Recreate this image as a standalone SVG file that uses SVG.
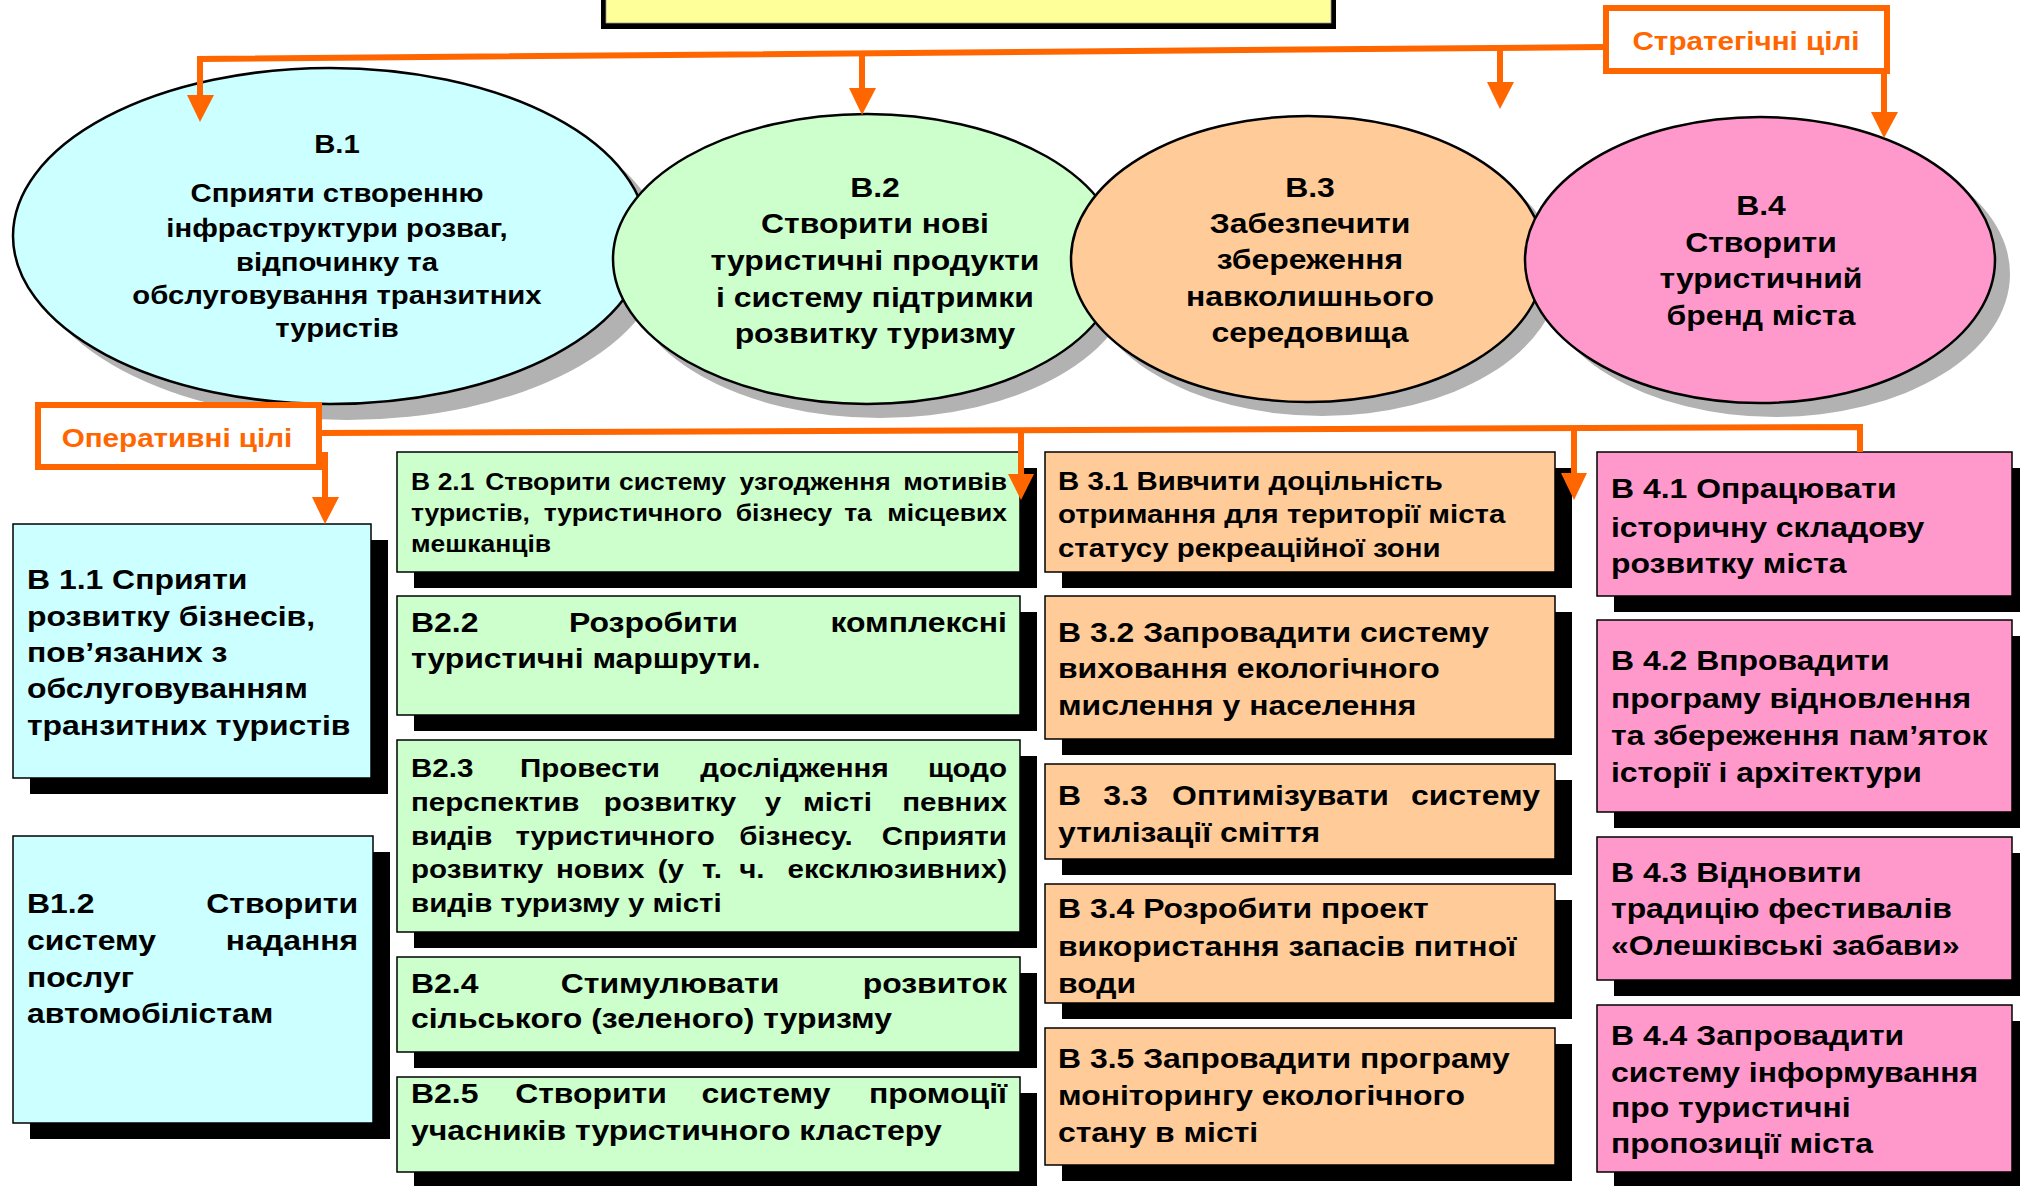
<svg xmlns="http://www.w3.org/2000/svg" width="2020" height="1186" viewBox="0 0 2020 1186">
<defs>
<style>
text{font-family:"Liberation Sans",Arial,sans-serif;font-weight:bold;fill:#000}
.ell{stroke:#000;stroke-width:2.5}
.esh{fill:#B2B2B2}
.box{stroke:#000;stroke-width:1.5}
.sh{fill:#000}
.c1{fill:#CCFFFF}.c2{fill:#CCFFCC}.c3{fill:#FFCC99}.c4{fill:#FF99CC}
.et{font-size:28px;text-anchor:middle}
.e1{font-size:25.7px;text-anchor:middle}
.bt{font-size:28px}
.b21{font-size:23.2px}
.b23{font-size:25.9px}
.b31{font-size:25.8px}
.m{text-anchor:middle}
.r{text-anchor:end}
.lbl{fill:#FF6600;font-size:26px;text-anchor:middle}
.lbox{fill:#fff;stroke:#FF6600;stroke-width:6}
.ln{fill:none;stroke:#FF6600;stroke-width:6}
.ah{fill:#FF6600}
</style>
</defs>
<rect width="2020" height="1186" fill="#fff"/>

<g id="title">
<rect x="601" y="-10" width="735" height="39" fill="#000"/>
<rect x="606" y="-10" width="725" height="33" fill="#FFFF99" stroke="#999" stroke-width="0.8"/>
</g>

<g id="B1">
<ellipse class="esh" cx="347" cy="252" rx="317" ry="168"/>
<ellipse class="ell c1" cx="330" cy="236" rx="317" ry="168"/>
<text class="e1" transform="matrix(1.14 0 0 1 -47.18 0)"><tspan x="337" y="153">В.1</tspan><tspan x="337" y="202">Сприяти створенню</tspan><tspan x="337" y="237">інфраструктури розваг,</tspan><tspan x="337" y="271">відпочинку та</tspan><tspan x="337" y="304">обслуговування транзитних</tspan><tspan x="337" y="337">туристів</tspan></text>
</g>
<g id="B2">
<ellipse class="esh" cx="880" cy="273" rx="254" ry="145"/>
<ellipse class="ell c2" cx="867" cy="259" rx="254" ry="145"/>
<text class="et" transform="matrix(1.14 0 0 1 -122.5 0)"><tspan x="875" y="197">В.2</tspan><tspan x="875" y="233">Створити нові</tspan><tspan x="875" y="270">туристичні продукти</tspan><tspan x="875" y="307">і систему підтримки</tspan><tspan x="875" y="343">розвитку туризму</tspan></text>
</g>
<g id="B3">
<ellipse class="esh" cx="1322" cy="273" rx="237" ry="143"/>
<ellipse class="ell c3" cx="1308" cy="259" rx="237" ry="143"/>
<text class="et" transform="matrix(1.14 0 0 1 -183.4 0)"><tspan x="1310" y="197">В.3</tspan><tspan x="1310" y="233">Забезпечити</tspan><tspan x="1310" y="269">збереження</tspan><tspan x="1310" y="306">навколишнього</tspan><tspan x="1310" y="342">середовища</tspan></text>
</g>
<g id="B4">
<ellipse class="esh" cx="1775" cy="274" rx="235" ry="143"/>
<ellipse class="ell c4" cx="1760" cy="260" rx="235" ry="143"/>
<text class="et" transform="matrix(1.14 0 0 1 -246.54 0)"><tspan x="1761" y="215">В.4</tspan><tspan x="1761" y="252">Створити</tspan><tspan x="1761" y="288">туристичний</tspan><tspan x="1761" y="325">бренд міста</tspan></text>
</g>

<g id="strategic-label">
<rect class="lbox" x="1606" y="8" width="281" height="63"/>
<text class="lbl" x="1746" y="50" transform="matrix(1.14 0 0 1 -244.44 0)">Стратегічні цілі</text>
</g>
<g id="operative-label">
<rect class="lbox" x="38" y="405" width="281" height="62" stroke-width="5"/>
<text class="lbl" x="177" y="447" transform="matrix(1.14 0 0 1 -24.78 0)">Оперативні цілі</text>
</g>

<g id="B1_1">
<rect class="sh" x="30" y="540" width="358" height="254"/>
<rect class="box c1" x="13" y="524" width="358" height="254"/>
<text class="bt" transform="matrix(1.14 0 0 1 -3.78 0)"><tspan x="27" y="589">В 1.1 Сприяти</tspan><tspan x="27" y="626">розвитку бізнесів,</tspan><tspan x="27" y="662">пов’язаних з</tspan><tspan x="27" y="698">обслуговуванням</tspan><tspan x="27" y="735">транзитних туристів</tspan></text>
</g>
<g id="B1_2">
<rect class="sh" x="30" y="852" width="360" height="287"/>
<rect class="box c1" x="13" y="836" width="360" height="287"/>
<text class="bt" transform="matrix(1.14 0 0 1 -3.78 0)"><tspan x="27" y="913">В1.2</tspan><tspan class="r" x="317.4" y="913">Створити</tspan><tspan x="27" y="950">систему</tspan><tspan class="r" x="317.4" y="950">надання</tspan><tspan x="27" y="987">послуг</tspan><tspan x="27" y="1023">автомобілістам</tspan></text>
</g>

<g id="B2_1">
<rect class="sh" x="414" y="468" width="623" height="120"/>
<rect class="box c2" x="397" y="452" width="623" height="120"/>
<text class="b21" transform="matrix(1.14 0 0 1 -57.54 0)"><tspan x="411" y="490">В</tspan><tspan class="m" x="450.5" y="490">2.1</tspan><tspan class="m" x="531.2" y="490">Створити</tspan><tspan class="m" x="640.4" y="490">систему</tspan><tspan class="m" x="765.5" y="490">узгодження</tspan><tspan class="r" x="933.8" y="490">мотивів</tspan><tspan x="411" y="521">туристів,</tspan><tspan class="m" x="605.7" y="521">туристичного</tspan><tspan class="m" x="738.2" y="521">бізнесу</tspan><tspan class="m" x="803.1" y="521">та</tspan><tspan class="r" x="933.8" y="521">місцевих</tspan><tspan x="411" y="552">мешканців</tspan></text>
</g>
<g id="B2_2">
<rect class="sh" x="414" y="612" width="623" height="119"/>
<rect class="box c2" x="397" y="596" width="623" height="119"/>
<text class="bt" transform="matrix(1.14 0 0 1 -57.54 0)"><tspan x="411" y="632">В2.2</tspan><tspan class="m" x="623.7" y="632">Розробити</tspan><tspan class="r" x="933.8" y="632">комплексні</tspan><tspan x="411" y="668">туристичні маршрути.</tspan></text>
</g>
<g id="B2_3">
<rect class="sh" x="414" y="756" width="623" height="192"/>
<rect class="box c2" x="397" y="740" width="623" height="192"/>
<text class="b23" transform="matrix(1.14 0 0 1 -57.54 0)"><tspan x="411" y="777">В2.3</tspan><tspan class="m" x="568" y="777">Провести</tspan><tspan class="m" x="747.4" y="777">дослідження</tspan><tspan class="r" x="933.8" y="777">щодо</tspan><tspan x="411" y="811">перспектив</tspan><tspan class="m" x="638.2" y="811">розвитку</tspan><tspan class="m" x="728.5" y="811">у</tspan><tspan class="m" x="785.1" y="811">місті</tspan><tspan class="r" x="933.8" y="811">певних</tspan><tspan x="411" y="845">видів</tspan><tspan class="m" x="590" y="845">туристичного</tspan><tspan class="m" x="748.7" y="845">бізнесу.</tspan><tspan class="r" x="933.8" y="845">Сприяти</tspan><tspan x="411" y="878">розвитку</tspan><tspan class="m" x="577" y="878">нових</tspan><tspan class="m" x="639" y="878">(у</tspan><tspan class="m" x="675" y="878">т.</tspan><tspan class="m" x="710" y="878">ч.</tspan><tspan class="r" x="933.8" y="878">ексклюзивних)</tspan><tspan x="411" y="912">видів туризму у місті</tspan></text>
</g>
<g id="B2_4">
<rect class="sh" x="414" y="973" width="623" height="95"/>
<rect class="box c2" x="397" y="957" width="623" height="95"/>
<text class="bt" transform="matrix(1.14 0 0 1 -57.54 0)"><tspan x="411" y="993">В2.4</tspan><tspan class="m" x="638.2" y="993">Стимулювати</tspan><tspan class="r" x="933.8" y="993">розвиток</tspan><tspan x="411" y="1028">сільського (зеленого) туризму</tspan></text>
</g>
<g id="B2_5">
<rect class="sh" x="414" y="1093" width="623" height="95"/>
<rect class="box c2" x="397" y="1077" width="623" height="95"/>
<text class="bt" transform="matrix(1.14 0 0 1 -57.54 0)"><tspan x="411" y="1103">В2.5</tspan><tspan class="m" x="568.9" y="1103">Створити</tspan><tspan class="m" x="722.4" y="1103">систему</tspan><tspan class="r" x="933.8" y="1103">промоції</tspan><tspan x="411" y="1140">учасників туристичного кластеру</tspan></text>
</g>

<g id="B3_1">
<rect class="sh" x="1062" y="468" width="510" height="120"/>
<rect class="box c3" x="1045" y="452" width="510" height="120"/>
<text class="b31" transform="matrix(1.14 0 0 1 -148.12 0)"><tspan x="1058" y="490">В 3.1 Вивчити доцільність</tspan><tspan x="1058" y="523">отримання для території міста</tspan><tspan x="1058" y="557">статусу рекреаційної зони</tspan></text>
</g>
<g id="B3_2">
<rect class="sh" x="1062" y="612" width="510" height="143"/>
<rect class="box c3" x="1045" y="596" width="510" height="143"/>
<text class="bt" transform="matrix(1.14 0 0 1 -148.12 0)"><tspan x="1058" y="642">В 3.2 Запровадити систему</tspan><tspan x="1058" y="678">виховання екологічного</tspan><tspan x="1058" y="715">мислення у населення</tspan></text>
</g>
<g id="B3_3">
<rect class="sh" x="1062" y="780" width="510" height="95"/>
<rect class="box c3" x="1045" y="764" width="510" height="95"/>
<text class="bt" transform="matrix(1.14 0 0 1 -148.12 0)"><tspan x="1058" y="805">В</tspan><tspan class="m" x="1117.2" y="805">3.3</tspan><tspan class="m" x="1253.2" y="805">Оптимізувати</tspan><tspan class="r" x="1480.8" y="805">систему</tspan><tspan x="1058" y="842">утилізації сміття</tspan></text>
</g>
<g id="B3_4">
<rect class="sh" x="1062" y="900" width="510" height="119"/>
<rect class="box c3" x="1045" y="884" width="510" height="119"/>
<text class="bt" transform="matrix(1.14 0 0 1 -148.12 0)"><tspan x="1058" y="918">В 3.4 Розробити проект</tspan><tspan x="1058" y="956">використання запасів питної</tspan><tspan x="1058" y="993">води</tspan></text>
</g>
<g id="B3_5">
<rect class="sh" x="1062" y="1044" width="510" height="137"/>
<rect class="box c3" x="1045" y="1028" width="510" height="137"/>
<text class="bt" transform="matrix(1.14 0 0 1 -148.12 0)"><tspan x="1058" y="1068">В 3.5 Запровадити програму</tspan><tspan x="1058" y="1105">моніторингу екологічного</tspan><tspan x="1058" y="1142">стану в місті</tspan></text>
</g>

<g id="B4_1">
<rect class="sh" x="1614" y="468" width="415" height="144"/>
<rect class="box c4" x="1597" y="452" width="415" height="144"/>
<text class="bt" transform="matrix(1.14 0 0 1 -225.54 0)"><tspan x="1611" y="498">В 4.1 Опрацювати</tspan><tspan x="1611" y="537">історичну складову</tspan><tspan x="1611" y="573">розвитку міста</tspan></text>
</g>
<g id="B4_2">
<rect class="sh" x="1614" y="636" width="415" height="192"/>
<rect class="box c4" x="1597" y="620" width="415" height="192"/>
<text class="bt" transform="matrix(1.14 0 0 1 -225.54 0)"><tspan x="1611" y="670">В 4.2 Впровадити</tspan><tspan x="1611" y="708">програму відновлення</tspan><tspan x="1611" y="745">та збереження пам’яток</tspan><tspan x="1611" y="782">історії і архітектури</tspan></text>
</g>
<g id="B4_3">
<rect class="sh" x="1614" y="853" width="415" height="143"/>
<rect class="box c4" x="1597" y="837" width="415" height="143"/>
<text class="bt" transform="matrix(1.14 0 0 1 -225.54 0)"><tspan x="1611" y="882">В 4.3 Відновити</tspan><tspan x="1611" y="918">традицію фестивалів</tspan><tspan x="1611" y="955">«Олешківські забави»</tspan></text>
</g>
<g id="B4_4">
<rect class="sh" x="1614" y="1021" width="415" height="167"/>
<rect class="box c4" x="1597" y="1005" width="415" height="167"/>
<text class="bt" transform="matrix(1.14 0 0 1 -225.54 0)"><tspan x="1611" y="1045">В 4.4 Запровадити</tspan><tspan x="1611" y="1082">систему інформування</tspan><tspan x="1611" y="1117">про туристичні</tspan><tspan x="1611" y="1153">пропозиції міста</tspan></text>
</g>

<g id="connectors">
<polyline class="ln" points="1603,47 200,59 200,97"/>
<line class="ln" x1="862" y1="53" x2="862" y2="90"/>
<line class="ln" x1="1500" y1="48" x2="1500" y2="84"/>
<line class="ln" x1="1884" y1="74" x2="1884" y2="114"/>
<polygon class="ah" points="187,95 214,95 200,122"/>
<polygon class="ah" points="849,88 876,88 862,115"/>
<polygon class="ah" points="1487,82 1514,82 1500,109"/>
<polygon class="ah" points="1871,112 1898,112 1884,138"/>
<polyline class="ln" points="322,433 1860,427 1860,452" stroke-width="5"/>
<line class="ln" x1="325" y1="452" x2="325" y2="499" stroke-width="5"/>
<line class="ln" x1="1021" y1="431" x2="1021" y2="476" stroke-width="5"/>
<line class="ln" x1="1574" y1="429" x2="1574" y2="474" stroke-width="5"/>
<polygon class="ah" points="312,497 339,497 325,524"/>
<polygon class="ah" points="1008,474 1034,474 1021,500"/>
<polygon class="ah" points="1561,473 1587,473 1574,500"/>
</g>
</svg>
